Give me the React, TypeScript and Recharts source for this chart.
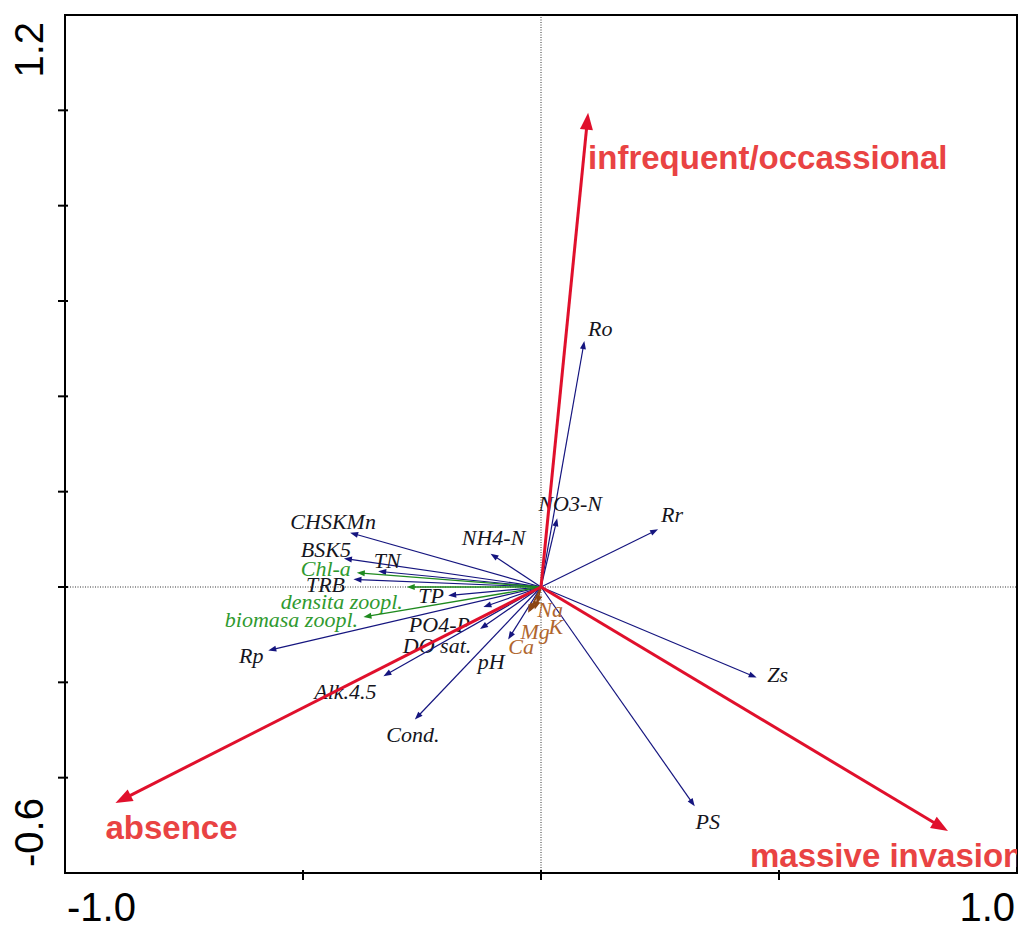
import { ScatterChart, Scatter, XAxis, YAxis, ReferenceLine, ReferenceArea } from 'recharts'

// response classes (red arrows)
const responseNames = ['infrequent/occassional', 'absence', 'massive invasion']
const responseX = [0.099, -0.894, 0.855]
const responseY = [0.995, -0.453, -0.512]

// environmental variables (navy arrows)
const envNames = ['Ro', 'NO3-N', 'Rr', 'NH4-N', 'CHSKMn', 'BSK5', 'TN', 'TRB', 'TP', 'PO4-P', 'DO sat.', 'Alk.4.5', 'Rp', 'pH', 'Cond.', 'Zs', 'PS']
const envX = [0.091, 0.034, 0.246, -0.106, -0.401, -0.414, -0.342, -0.394, -0.195, -0.121, -0.128, -0.331, -0.573, -0.069, -0.265, 0.453, 0.323]
const envY = [0.516, 0.144, 0.121, 0.07, 0.114, 0.06, 0.033, 0.016, -0.018, -0.042, -0.088, -0.187, -0.133, -0.11, -0.278, -0.19, -0.46]

// plankton variables (green arrows)
const zooNames = ['Chl-a', 'densita zoopl.', 'biomasa zoopl.']
const zooX = [-0.387, -0.282, -0.373]
const zooY = [0.03, 0.0, -0.063]

// ions (brown arrows)
const ionNames = ['Na', 'K', 'Mg', 'Ca']
const ionX = [-0.008, -0.013, -0.023, -0.027]
const ionY = [-0.035, -0.047, -0.051, -0.054]

const xTicks = [-1, -0.5, 0, 0.5, 1]
const yTicks = [-0.6, -0.4, -0.2, 0, 0.2, 0.4, 0.6, 0.8, 1.0, 1.2]

// label placement relative to arrow tip, in pixels: [dx, dy, anchor]
const labelPos: Record<string, [number, number, string]> = {
  'infrequent/occassional': [0, 45, 'start'],
  absence: [-10, 25, 'start'],
  'massive invasion': [-198, 24, 'start'],
  Ro: [16, -13, 'middle'],
  'NO3-N': [13, -15, 'middle'],
  Rr: [14, -15, 'middle'],
  'NH4-N': [3, -16, 'middle'],
  CHSKMn: [-17, -11, 'middle'],
  BSK5: [-18, -9, 'middle'],
  TN: [9, -11, 'middle'],
  TRB: [-28, 5, 'middle'],
  TP: [-17, 0, 'middle'],
  'PO4-P': [-44, 17, 'middle'],
  'DO sat.': [-43, 17, 'middle'],
  'Alk.4.5': [-38, 15, 'middle'],
  Rp: [-17, 5, 'middle'],
  pH: [-17, 22, 'middle'],
  'Cond.': [-2, 15, 'middle'],
  Zs: [21, -3, 'middle'],
  PS: [13, 15, 'middle'],
  'Chl-a': [-31, -4, 'middle'],
  'densita zoopl.': [-65, 14, 'middle'],
  'biomasa zoopl.': [-72, 2, 'middle'],
  Na: [13, 6, 'middle'],
  K: [21, 17, 'middle'],
  Mg: [5, 20, 'middle'],
  Ca: [-7, 34, 'middle'],
}

const serif = 'italic 22px "Liberation Serif"'

const groups = [
  { names: envNames, xs: envX, ys: envY, line: '#15157f', text: '#151520', width: 1.2, head: 8, half: 3, font: serif },
  { names: zooNames, xs: zooX, ys: zooY, line: '#1f8a1f', text: '#2f9a2f', width: 1.3, head: 8, half: 3, font: serif },
  { names: ionNames, xs: ionX, ys: ionY, line: '#8b4513', text: '#b0662e', width: 1.2, head: 8, half: 3.5, font: serif },
  { names: responseNames, xs: responseX, ys: responseY, line: '#e0102c', text: '#e94343', width: 3, head: 17, half: 6.5, font: 'bold 33px "Liberation Sans"' },
]

const tips = groups.flatMap((g) => g.names.map((n, i) => ({ x: g.xs[i], y: g.ys[i], name: n })))

function arrowShape(name: string, g: any) {
  return (p: any) => {
    const { x1, y1, x2, y2 } = p
    const ang = Math.atan2(y2 - y1, x2 - x1)
    const c = Math.cos(ang)
    const s = Math.sin(ang)
    const bx = x2 - c * g.head
    const by = y2 - s * g.head
    const pts = `${x2},${y2} ${bx - s * g.half},${by + c * g.half} ${bx + s * g.half},${by - c * g.half}`
    const [dx, dy, anchor] = labelPos[name]
    return (
      <g clipPath={p.clipPath}>
        <line x1={x1} y1={y1} x2={x2 - c * g.head * 0.6} y2={y2 - s * g.head * 0.6} stroke={g.line} strokeWidth={g.width} />
        <polygon points={pts} fill={g.line} />
        <text
          x={x2 + dx}
          y={y2 + dy}
          textAnchor={anchor as any}
          dominantBaseline="central"
          fill={g.text}
          style={{ font: g.font }}
        >
          {name}
        </text>
      </g>
    )
  }
}

const YTick = ({ x, y, payload }: any) => {
  const v = payload.value
  return (
    <g>
      {v > -0.6 && v < 1.2 && <line x1={x - 7} x2={x + 3} y1={y} y2={y} stroke="#000" strokeWidth={2} />}
      {v === 1.2 && (
        <text transform={`translate(43, ${y + 7}) rotate(-90)`} textAnchor="end" fill="#000" style={{ font: '40px "Liberation Sans"' }}>
          1.2
        </text>
      )}
      {v === -0.6 && (
        <text transform={`translate(43, ${y - 6}) rotate(-90)`} textAnchor="start" fill="#000" style={{ font: '40px "Liberation Sans"' }}>
          -0.6
        </text>
      )}
    </g>
  )
}

const XTick = ({ x, y, payload }: any) => {
  const v = payload.value
  return (
    <g>
      {v > -1 && v < 1 && <line x1={x} x2={x} y1={y - 3} y2={y + 7} stroke="#000" strokeWidth={2} />}
      {v === -1 && (
        <text x={x + 2} y={y + 48} textAnchor="start" fill="#000" style={{ font: '40px "Liberation Sans"' }}>
          -1.0
        </text>
      )}
      {v === 1 && (
        <text x={x - 2} y={y + 48} textAnchor="end" fill="#000" style={{ font: '40px "Liberation Sans"' }}>
          1.0
        </text>
      )}
    </g>
  )
}

export default function App() {
  return (
    <div style={{ position: 'absolute', left: 0, top: 0, width: 1021, height: 925, background: '#fff' }}>
      <ScatterChart width={1021} height={925} margin={{ top: 15, right: 4, bottom: 0, left: 0 }}>
        <XAxis
          type="number"
          dataKey="x"
          domain={[-1, 1]}
          ticks={xTicks}
          height={52}
          axisLine={false}
          tickLine={false}
          tickSize={0}
          tickMargin={0}
          tick={<XTick />}
          interval={0}
        />
        <YAxis
          type="number"
          dataKey="y"
          domain={[-0.6, 1.2]}
          ticks={yTicks}
          width={65}
          axisLine={false}
          tickLine={false}
          tickSize={0}
          tickMargin={0}
          tick={<YTick />}
          interval={0}
        />
        <ReferenceLine x={0} stroke="#333" strokeWidth={1} strokeDasharray="1 1.5" />
        <ReferenceLine y={0} stroke="#333" strokeWidth={1} strokeDasharray="1 1.5" />
        <Scatter data={tips} shape={() => <g />} isAnimationActive={false} />
        {groups.map((g) =>
          g.names.map((n, i) => (
            <ReferenceLine
              key={n}
              segment={[{ x: 0, y: 0 }, { x: g.xs[i], y: g.ys[i] }]}
              ifOverflow="hidden"
              shape={arrowShape(n, g)}
            />
          ))
        )}
        <ReferenceArea x1={-1} x2={1} y1={-0.6} y2={1.2} fill="none" stroke="#000" strokeWidth={2} fillOpacity={0} />
      </ScatterChart>
    </div>
  )
}
